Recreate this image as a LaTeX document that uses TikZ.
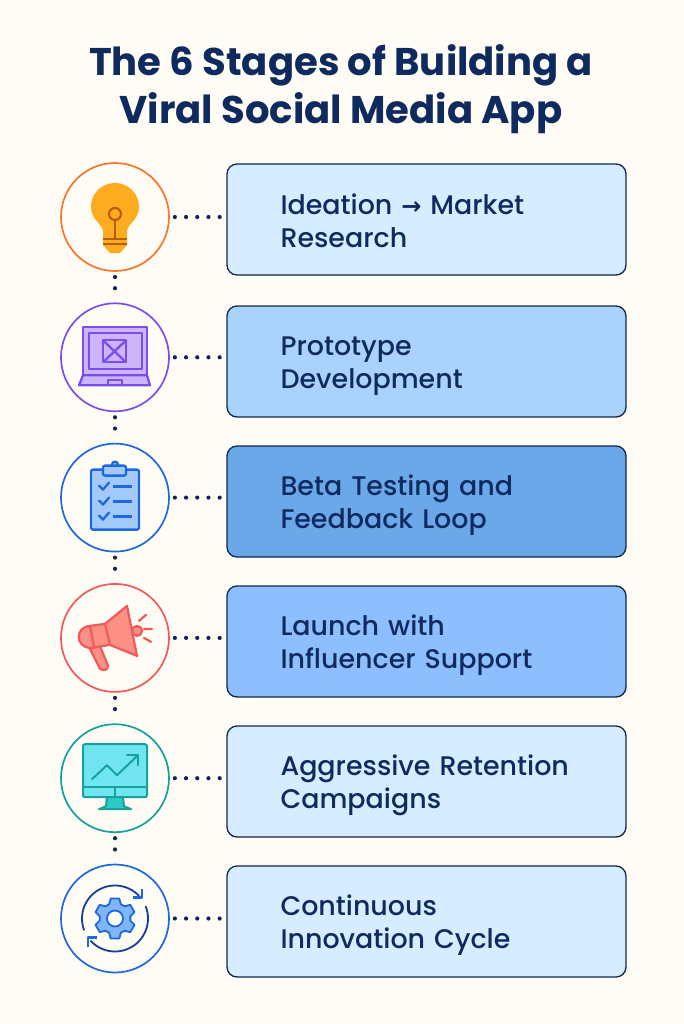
\documentclass[tikz,border=0pt]{standalone}
\usepackage{fontspec}
\setmainfont{Poppins}
\newfontfamily\boxfont{Poppins Medium}
\newfontfamily\arrowfont{DejaVu Sans}
\usetikzlibrary{positioning}
\definecolor{pagebg}{HTML}{FFFCF5}
\definecolor{navy}{HTML}{10264F}
\definecolor{titleblue}{HTML}{0F2A5F}
\definecolor{paleblue}{HTML}{D6ECFF}
\definecolor{softblue}{HTML}{A9D3FB}
\definecolor{midblue}{HTML}{6BA8EA}
\definecolor{brightblue}{HTML}{8DBEFD}
\definecolor{bulbring}{HTML}{F9772A}
\definecolor{bulbfill}{HTML}{FDAB1F}
\definecolor{bulbdark}{HTML}{B45F06}
\definecolor{laptopring}{HTML}{7C4DEB}
\definecolor{laptopfill}{HTML}{CDB5FD}
\definecolor{clipring}{HTML}{1D68DC}
\definecolor{clipfill}{HTML}{A3C9FA}
\definecolor{hornring}{HTML}{F05A5A}
\definecolor{hornfill}{HTML}{FC8F86}
\definecolor{screenring}{HTML}{15A19C}
\definecolor{screenfill}{HTML}{70E4F0}
\definecolor{standfill}{HTML}{2CCBC8}
\definecolor{gearfill}{HTML}{7FB6FA}
\definecolor{arcdark}{HTML}{123F9B}
\tikzset{
	stagecircle/.style={circle,draw,line width=1.7pt,fill=pagebg,minimum size=108pt,inner sep=0pt},
	stagebox/.style={draw=navy,line width=1.3pt,rounded corners=10pt,minimum width=399pt,minimum height=111pt,
		text width=292pt,align=left,inner xsep=0pt,text=titleblue,font=\fontsize{26.9}{33}\boxfont,
		execute at begin node={\rule{0pt}{#1}},execute at end node={\rule[-8pt]{0pt}{8pt}}},
	stagebox/.default=28pt,
	dotline/.style={navy,line width=4.2pt,line cap=round,dash pattern=on 0pt off 11.2pt},
	titletext/.style={text=titleblue,align=center,font=\fontsize{38.6}{48}\selectfont\bfseries}
}
\begin{document}
\begin{tikzpicture}[x=1pt,y=-1pt,node distance=140.3pt,on grid]
	\useasboundingbox (0,0) rectangle (683,1024);
	\fill[pagebg] (0,0) rectangle (683,1024);
	\node[titletext] (title) at (341,89) {The 6 Stages of Building a\\Viral Social Media App};
	% circles
	\node[stagecircle,draw=bulbring] (c1) at (115,217) {};
	\node[stagecircle,draw=laptopring] (c2) [below=of c1] {};
	\node[stagecircle,draw=clipring] (c3) [below=of c2] {};
	\node[stagecircle,draw=hornring] (c4) [below=of c3] {};
	\node[stagecircle,draw=screenring] (c5) [below=of c4] {};
	\node[stagecircle,draw=clipring] (c6) [below=of c5] {};
	% boxes
	\node[stagebox=30.6pt,fill=paleblue] (b1) at (426.5,219.5) {Ideation {\arrowfont\bfseries\fontsize{24}{33}\selectfont→} Market\\Research};
	\node[stagebox,fill=softblue] (b2) at (426.5,361.5) {Prototype\\Development};
	\node[stagebox,fill=midblue] (b3) at (426.5,501.5) {Beta Testing and\\Feedback Loop};
	\node[stagebox,fill=brightblue] (b4) at (426.5,641.5) {Launch with\\Influencer Support};
	\node[stagebox,fill=paleblue] (b5) at (426.5,781.5) {Aggressive Retention\\Campaigns};
	\node[stagebox,fill=paleblue] (b6) at (426.5,921.5) {Continuous\\Innovation Cycle};
	% dotted links
	\foreach \i in {1,...,6}
		\draw[dotline] (c\i.east) ++(5,0) coordinate (s\i) -- ++(45,0) coordinate (e\i);
	\foreach \i/\j in {1/2,2/3,3/4,4/5,5/6}
		\draw[dotline,shorten <=6pt,shorten >=4pt] (c\i) ++(0,54) coordinate (p\i) -- (p\i |- c\j.north);
	% bulb
	\begin{scope}[shift={(c1)}]
		\fill[bulbfill] (-12,21) -- (-12,14) .. controls (-13,6) and (-24,3) .. (-24,-10) .. controls (-24,-24) and (-13,-34) .. (0,-34) .. controls (13,-34) and (24,-24) .. (24,-10) .. controls (24,3) and (13,6) .. (12,14) -- (12,28) -- (5,36) -- (-5,36) -- (-12,28) -- cycle;
		\draw[bulbdark,line width=2pt] (-12,22) -- (12,22) (-12,27) -- (12,27) (0,22) -- (0,3);
		\draw[bulbdark,line width=2.2pt] (0,-3) circle (6);
	\end{scope}
	% laptop
	\begin{scope}[shift={(c2)},laptopring,line width=2.3pt,line join=round]
		\draw[fill=laptopfill] (-32,-30) rectangle (32,18);
		\draw[fill=laptopfill] (-32,18) -- (32,18) -- (35,28) -- (-36,28) -- cycle;
		\draw[fill=laptopfill] (-26,-24) rectangle (27,12);
		\draw[fill=laptopfill] (-12,-17) rectangle (11,5);
		\draw (-12,-17) -- (11,5) (11,-17) -- (-12,5);
		\draw (-7,28) -- (-7,23) -- (7,23) -- (7,28);
	\end{scope}
	% clipboard
	\begin{scope}[shift={(c3)},clipring,line width=2.3pt,line join=round]
		\draw[fill=clipfill,rounded corners=2pt] (-24,-28) rectangle (24,32);
		\draw[fill=clipfill] (0,-33) circle (3);
		\draw[fill=clipfill,rounded corners=2pt] (-12,-32) rectangle (11,-22);
		\foreach \y in {-11,4,19} {
			\draw[line cap=round] (-16,\y-1) -- (-12,\y+3) -- (-6,\y-4);
			\draw (-2,\y) -- (17,\y);
		}
	\end{scope}
	% megaphone
	\begin{scope}[shift={(c4)},hornring,line width=2.2pt,line join=round,line cap=round]
		\draw[fill=hornfill] (22,-7) circle (5);
		\draw[fill=hornfill] (-25,11) -- (-15,31) .. controls (-11,33) and (-7,32) .. (-7,28) -- (-15,8) -- cycle;
		\draw[fill=hornfill] (-10,-14) -- (-25,-12) .. controls (-40,-11) and (-40,9) .. (-25,10) -- (-5,7) -- (22,18) -- (12,-32) -- cycle;
		\draw (-25,-12) -- (-21,9) (-10,-14) -- (-5,7);
		\draw (24,-17) -- (31,-23) (29,-9) -- (37,-9) (29,0) -- (36,4);
	\end{scope}
	% monitor
	\begin{scope}[shift={(c5)},screenring,line width=2pt,line join=round]
		\draw[fill=standfill] (-8,19) -- (8,19) -- (9,28) -- (16,31) -- (-16,31) -- (-9,28) -- cycle;
		\draw[fill=screenfill,rounded corners=2pt] (-32,-34) rectangle (32,19);
		\draw (-32,9) -- (32,9) (0,9) -- (0,19);
		\draw[line cap=round] (-23,1) -- (-8,-13) -- (2,-3) -- (23,-23);
		\draw[line cap=round] (12,-23) -- (23,-23) -- (23,-13);
	\end{scope}
	% gear
	\begin{scope}[shift={(c6)},line join=round]
		\draw[clipring,line width=1.8pt,fill=gearfill] (18:20.5)
			\foreach \a in {30,90,...,330} { -- (\a-12:20.5) -- (\a+12:20.5) -- (\a+22:15.5) -- (\a+38:15.5) }
			-- cycle;
		\draw[clipring,line width=1.8pt,fill=pagebg] (0,0) circle (8);
		\draw[arcdark,line width=1.8pt] plot[smooth,domain=159:317,samples=30] (\x:33);
		\draw[arcdark,line width=1.8pt] plot[smooth,domain=338:498,samples=30] (\x:33);
		\draw[clipring,line width=2.2pt] (27,-30) -- (27,-21) -- (18,-21);
		\draw[clipring,line width=2.2pt] (-27,28) -- (-27,19) -- (-18,19);
	\end{scope}
\end{tikzpicture}
\end{document}
